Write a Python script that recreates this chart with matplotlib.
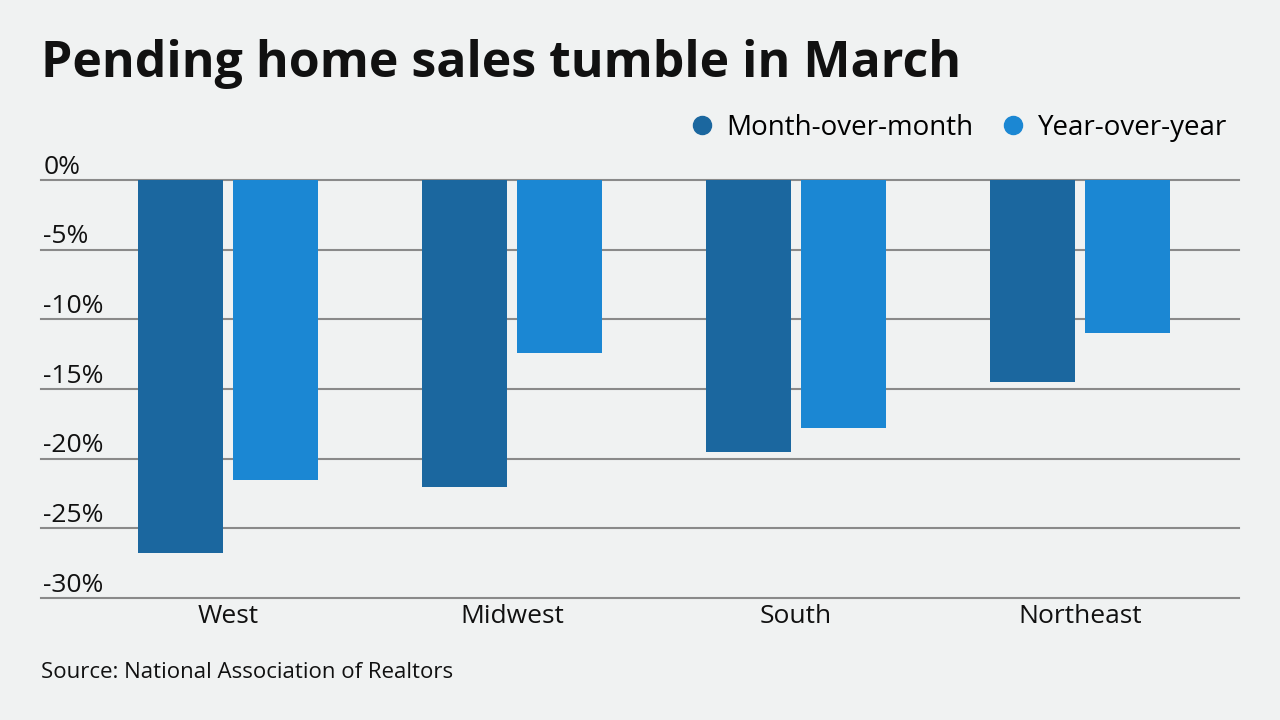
import matplotlib.pyplot as plt
from matplotlib.lines import Line2D
import numpy as np

regions = ["West", "Midwest", "South", "Northeast"]
month_over_month = [-26.8, -22.0, -19.5, -14.5]
year_over_year = [-21.5, -12.4, -17.8, -11.0]
y_ticks = [0, -5, -10, -15, -20, -25, -30]

bg = "#f0f2f2"
dark_blue = "#1b679f"
light_blue = "#1b87d3"

plt.rcParams['font.family'] = ['Open Sans', 'DejaVu Sans']

fig = plt.figure(figsize=(12.8, 7.2), dpi=100, facecolor=bg)
ax = fig.add_axes([41 / 1280, 1 - 598 / 720, 1198 / 1280, 418 / 720])
ax.set_facecolor(bg)

x = np.arange(len(regions))
w = 0.30
ax.bar(x - 0.167, month_over_month, w, color=dark_blue, zorder=3)
ax.bar(x + 0.167, year_over_year, w, color=light_blue, zorder=3)

ax.set_xlim(-0.658, 3.56)
ax.set_ylim(-30, 0)

# gridlines with labels sitting on top of them
for t in y_ticks:
    ax.axhline(t, color="#8a8a8a", lw=1.5, zorder=2, clip_on=False)
    ax.text(0.002, t + 0.02, f"{t}%", transform=ax.get_yaxis_transform(),
            ha="left", va="bottom", fontsize=19, color="#111111")

ax.set_yticks([])
ax.set_xticks(x)
ax.set_xticklabels(regions, fontsize=19, color="#111111")
ax.tick_params(axis="x", length=0, pad=4)
for s in ax.spines.values():
    s.set_visible(False)

fig.text(41 / 1280, 1 - 64 / 720, "Pending home sales tumble in March",
         fontsize=36, fontweight="bold", color="#111111", va="center", ha="left")
fig.text(41 / 1280, 1 - 673 / 720, "Source: National Association of Realtors",
         fontsize=16, color="#111111", va="center", ha="left")

handles = [
    Line2D([], [], marker="o", ls="", markersize=13, color=dark_blue, label="Month-over-month"),
    Line2D([], [], marker="o", ls="", markersize=13, color=light_blue, label="Year-over-year"),
]
fig.legend(handles=handles, loc="center right", bbox_to_anchor=(1238 / 1280, 1 - 128 / 720),
           ncol=2, frameon=False, fontsize=20, handletextpad=0.4, columnspacing=0.9,
           handlelength=1.0, borderaxespad=0)

fig.savefig("out.png", dpi=100, facecolor=bg)
